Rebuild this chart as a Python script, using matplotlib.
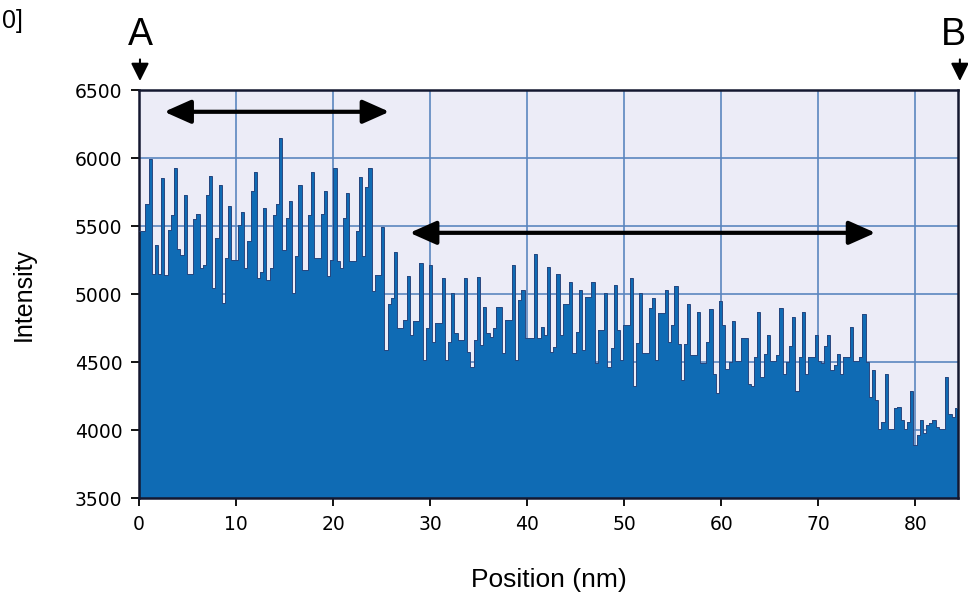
import numpy as np
import matplotlib
matplotlib.use("Agg")
import matplotlib.pyplot as plt
import matplotlib.transforms as mtransforms

# line profile A -> B, intensity (one value per step)
intensity = [
    5460, 5460, 5660, 5990, 5150, 5360, 5150, 5850, 5140, 5470,
    5580, 5925, 5330, 5290, 5730, 5150, 5150, 5550, 5590, 5190,
    5215, 5730, 5865, 5045, 5410, 5800, 4935, 5265, 5645, 5250,
    5250, 5510, 5600, 5190, 5390, 5755, 5900, 5120, 5165, 5630,
    5105, 5190, 5580, 5660, 6150, 5325, 5560, 5685, 5010, 5280,
    5805, 5180, 5180, 5580, 5900, 5265, 5265, 5590, 5760, 5130,
    5250, 5925, 5240, 5190, 5560, 5740, 5240, 5240, 5460, 5860,
    5280, 5790, 5925, 5020, 5140, 5140, 5490, 4590, 4930, 4970,
    5310, 4750, 4750, 4810, 5130, 4700, 4800, 4800, 5230, 4515,
    4750, 5210, 4650, 4785, 4785, 5115, 4515, 4650, 5005, 4710,
    4660, 4660, 5115, 4575, 4465, 4660, 5125, 4625, 4905, 4710,
    4685, 4750, 4905, 4905, 4565, 4810, 4810, 5215, 4515, 4955,
    5030, 4675, 4675, 4675, 5295, 4675, 4760, 4700, 5195, 4575,
    4610, 5150, 4700, 4930, 4930, 5090, 4565, 4720, 5030, 4590,
    4980, 4980, 5090, 4490, 4735, 4735, 5005, 4465, 4600, 5065,
    4735, 4515, 4770, 4770, 5115, 4320, 4640, 5005, 4565, 4565,
    4895, 4970, 4515, 4860, 4860, 5030, 4645, 4770, 5060, 4635,
    4365, 4635, 4925, 4550, 4550, 4865, 4490, 4490, 4645, 4890,
    4415, 4270, 4950, 4770, 4450, 4500, 4805, 4510, 4510, 4680,
    4680, 4340, 4320, 4535, 4865, 4390, 4560, 4700, 4510, 4510,
    4550, 4900, 4415, 4500, 4620, 4830, 4290, 4535, 4865, 4415,
    4535, 4535, 4695, 4510, 4490, 4620, 4700, 4440, 4480, 4560,
    4415, 4535, 4535, 4755, 4510, 4510, 4535, 4855, 4500, 4245,
    4440, 4220, 4010, 4060, 4415, 4010, 4010, 4160, 4170, 4070,
    4010, 4060, 4290, 3890, 3965, 4070, 3975, 4035, 4050, 4070,
    4020, 4010, 4010, 4390, 4120, 4095, 4160,
]
length_nm = 84.4

x_ticks = [0, 10, 20, 30, 40, 50, 60, 70, 80]
y_ticks = [3500, 4000, 4500, 5000, 5500, 6000, 6500]

edges = np.linspace(0, length_nm, len(intensity) + 1)

fig = plt.figure(figsize=(9.68, 5.95), dpi=100)
ax = fig.add_axes([0.1436, 0.163, 0.846, 0.6857])
ax.set_facecolor("#ececf7")

ax.stairs(intensity, edges, baseline=3500, fill=True, color="#0f6bb4", zorder=2)
ax.stairs(intensity, edges, baseline=None, color="#27467f", lw=0.7, zorder=3)

ax.set_xlim(0, length_nm)
ax.set_ylim(3500, 6500)
ax.set_xticks(x_ticks)
ax.set_yticks(y_ticks)
ax.set_axisbelow(True)
ax.grid(True, color="#5b86bf", lw=1.2)
for s in ax.spines.values():
    s.set_linewidth(1.8)
    s.set_color("#141830")
ax.tick_params(direction="out", length=6, width=1.3, labelsize=13.5, pad=6)

ax.set_xlabel("Position (nm)", fontsize=19, family="Liberation Sans", labelpad=25)
ax.set_ylabel("Intensity", fontsize=18, family="Liberation Sans", labelpad=28)

# double arrows marking the two regions
arrow = dict(arrowstyle="<|-|>,head_length=0.9,head_width=0.4", color="black",
             lw=3, shrinkA=0, shrinkB=0, mutation_scale=18)
ax.annotate("", xy=(2.6, 6340), xytext=(25.8, 6340), arrowprops=arrow, zorder=5)
ax.annotate("", xy=(27.9, 5450), xytext=(75.9, 5450), arrowprops=arrow, zorder=5)

# A / B end markers above the frame
trans = mtransforms.blended_transform_factory(ax.transData, ax.transAxes)
down = dict(arrowstyle="-|>,head_length=0.6,head_width=0.3", color="black",
            lw=1.5, shrinkA=0, shrinkB=0, mutation_scale=18)
for xpos, txt_x, name in [(0.1, 0.1, "A"), (84.6, 83.9, "B")]:
    ax.text(txt_x, 1.135, name, transform=trans, ha="center", va="center",
            fontsize=27, family="Liberation Sans", clip_on=False)
    ax.annotate("", xy=(xpos, 1.022), xytext=(xpos, 1.075), xycoords=trans,
                textcoords=trans, arrowprops=down, annotation_clip=False)

fig.text(0.002, 0.965, "0]", fontsize=18, family="Liberation Sans", va="center")

fig.savefig("out.png", dpi=100)
